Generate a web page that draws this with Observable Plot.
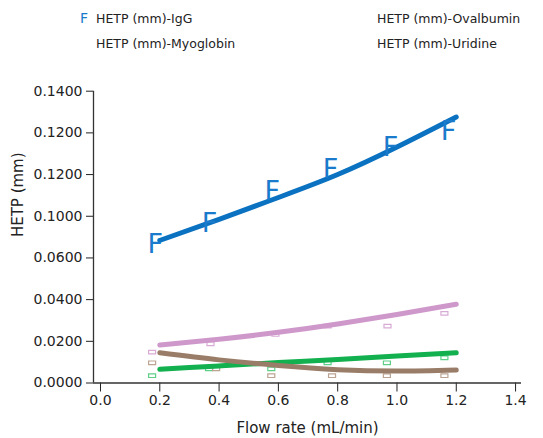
<!DOCTYPE html>
<html>
<head>
<meta charset="utf-8">
<script src="https://cdn.jsdelivr.net/npm/d3@7"></script>
<script src="https://cdn.jsdelivr.net/npm/@observablehq/plot@0.6"></script>
<style>
  body { margin: 0; background: #fff; font-family: "DejaVu Sans", sans-serif; }
  #legend { position: relative; width: 543px; height: 60px; font-size: 12.5px; color: #222; }
  #legend span { position: absolute; white-space: nowrap; }
  #legend .sym { color: #1a7acb; font-size: 14px; }
</style>
</head>
<body>
<div id="legend"></div>
<div id="chart"></div>
<script>
// ---- data ----
const seriesNames = ["HETP (mm)-IgG", "HETP (mm)-Myoglobin", "HETP (mm)-Ovalbumin", "HETP (mm)-Uridine"];

// measured points
const iggX = [0.185, 0.368, 0.579, 0.776, 0.978, 1.174];
const iggY = [0.0665, 0.0764, 0.0921, 0.1025, 0.1132, 0.1209];

const ovaX = [0.174, 0.371, 0.590, 0.766, 0.968, 1.160];
const ovaY = [0.0148, 0.0188, 0.0233, 0.0273, 0.0273, 0.0334];

const myoX = [0.174, 0.366, 0.576, 0.766, 0.966, 1.160];
const myoY = [0.0035, 0.0068, 0.0068, 0.0097, 0.0097, 0.0121];

const uriX = [0.174, 0.390, 0.576, 0.781, 0.966, 1.160];
const uriY = [0.0097, 0.0068, 0.0035, 0.0035, 0.0035, 0.0035];

// trend lines
const trendX = [0.2, 0.4, 0.6, 0.8, 1.0, 1.2];
const iggTrend = [0.0684, 0.0785, 0.0890, 0.1000, 0.1132, 0.1276];
const ovaTrend = [0.0182, 0.0210, 0.0243, 0.0283, 0.0329, 0.0378];
const myoTrend = [0.0066, 0.0082, 0.0098, 0.0113, 0.0129, 0.0145];
const uriTrend = [0.0145, 0.0111, 0.0084, 0.0064, 0.0057, 0.0062];

// axes
const xTitle = "Flow rate (mL/min)";
const yTitle = "HETP (mm)";
const xTicks = [0, 0.2, 0.4, 0.6, 0.8, 1.0, 1.2, 1.4];
const xTickLabels = ["0.0", "0.2", "0.4", "0.6", "0.8", "1.0", "1.2", "1.4"];
const yTicks = [0, 0.02, 0.04, 0.06, 0.08, 0.10, 0.12, 0.14];
const yTickLabels = ["0.0000", "0.0200", "0.0400", "0.0600", "0.1000", "0.1200", "0.1200", "0.1400"];
const xDomain = [-0.0236, 1.42];
const yDomain = [0, 0.14];

const colors = {
  igg: "#0b72c1", iggMark: "#1a7acb",
  ova: "#cf98cb", ovaMark: "#d9aad6",
  myo: "#12b04e", myoMark: "#5fcf88",
  uri: "#9a7d69", uriMark: "#bca392"
};

// ---- legend ----
const legend = document.getElementById("legend");
const legendItems = [
  {sym: "F", text: seriesNames[0], left: 80, top: 11},
  {sym: "", text: seriesNames[1], left: 80, top: 36},
  {sym: "", text: seriesNames[2], left: 361, top: 11},
  {sym: "", text: seriesNames[3], left: 361, top: 36}
];
for (const it of legendItems) {
  const s = document.createElement("span");
  s.className = "sym"; s.textContent = it.sym;
  s.style.left = it.left + "px"; s.style.top = (it.top - 1) + "px";
  legend.appendChild(s);
  const t = document.createElement("span");
  t.textContent = it.text;
  t.style.left = (it.left + 16) + "px"; t.style.top = it.top + "px";
  legend.appendChild(t);
}

// ---- tables ----
const zipXY = (xs, ys) => xs.map((x, i) => ({x, y: ys[i]}));
const iggPts = zipXY(iggX, iggY);
const ovaPts = zipXY(ovaX, ovaY);
const myoPts = zipXY(myoX, myoY);
const uriPts = zipXY(uriX, uriY);
const iggLine = zipXY(trendX, iggTrend);
const ovaLine = zipXY(trendX, ovaTrend);
const myoLine = zipXY(trendX, myoTrend);
const uriLine = zipXY(trendX, uriTrend);

const boxSymbol = { draw(ctx) { ctx.rect(-3.5, -1.8, 7, 3.6); } };

const plot = Plot.plot({
  width: 543,
  height: 378,
  marginLeft: 93,
  marginRight: 22,
  marginTop: 30.7,
  marginBottom: 55.5,
  style: { fontFamily: "DejaVu Sans, sans-serif", fontSize: "14px", color: "#222", background: "#fff" },
  x: { domain: xDomain },
  y: { domain: yDomain },
  marks: [
    Plot.axisX({
      ticks: xTicks,
      tickFormat: (d) => xTickLabels[xTicks.findIndex(t => Math.abs(t - d) < 1e-9)],
      tickSize: 9, tickPadding: 3, label: null, fontSize: 14
    }),
    Plot.axisY({
      ticks: yTicks,
      tickFormat: (d) => yTickLabels[yTicks.findIndex(t => Math.abs(t - d) < 1e-9)],
      tickSize: 7, tickPadding: 4, label: null, fontSize: 14
    }),
    Plot.text([xTitle], {text: (d) => d, frameAnchor: "bottom", dy: 50, fontSize: 15, fill: "#222"}),
    Plot.text([yTitle], {text: (d) => d, frameAnchor: "left", dx: -75, rotate: -90, fontSize: 15, fill: "#222"}),
    Plot.ruleY([yDomain[0]], {stroke: "#333", strokeWidth: 1.3}),
    Plot.ruleX([xDomain[0]], {stroke: "#333", strokeWidth: 1.3}),
    // small hollow markers
    Plot.dot(ovaPts, {x: "x", y: "y", symbol: boxSymbol, stroke: colors.ovaMark, strokeWidth: 1.2, fill: "none"}),
    Plot.dot(myoPts, {x: "x", y: "y", symbol: boxSymbol, stroke: colors.myoMark, strokeWidth: 1.2, fill: "none"}),
    Plot.dot(uriPts, {x: "x", y: "y", symbol: boxSymbol, stroke: colors.uriMark, strokeWidth: 1.2, fill: "none"}),
    // trend lines
    Plot.line(ovaLine, {x: "x", y: "y", stroke: colors.ova, strokeWidth: 5, curve: "natural"}),
    Plot.line(myoLine, {x: "x", y: "y", stroke: colors.myo, strokeWidth: 5, curve: "natural"}),
    Plot.line(uriLine, {x: "x", y: "y", stroke: colors.uri, strokeWidth: 5, curve: "natural"}),
    Plot.line(iggLine, {x: "x", y: "y", stroke: colors.igg, strokeWidth: 5, curve: "natural"}),
    // IgG markers
    Plot.text(iggPts, {x: "x", y: "y", text: () => "F", fill: colors.iggMark, fontSize: 27, fontFamily: "DejaVu Sans"})
  ]
});
document.getElementById("chart").appendChild(plot);
</script>
</body>
</html>
